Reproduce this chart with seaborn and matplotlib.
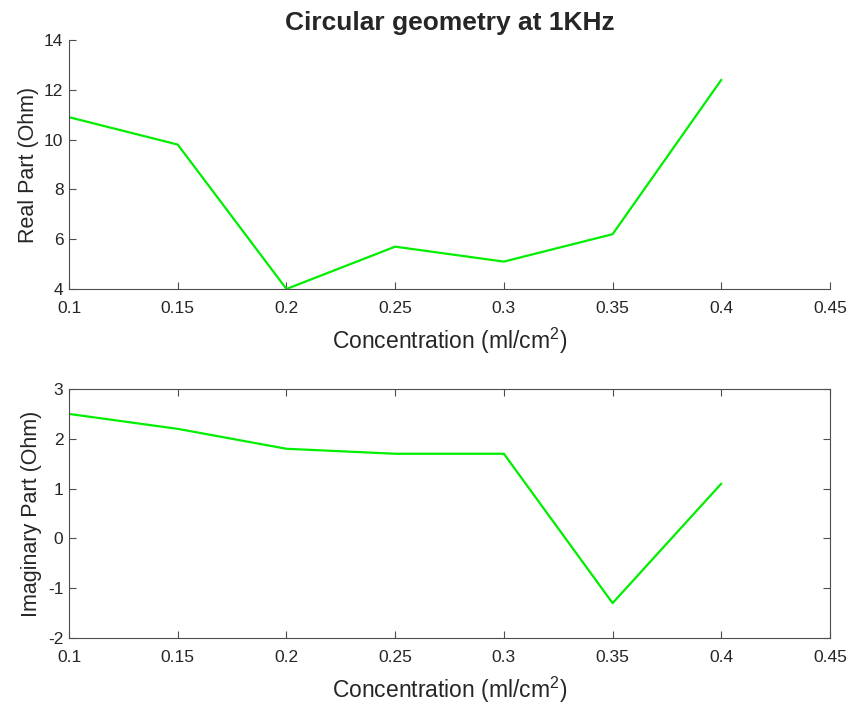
import matplotlib
matplotlib.use("Agg")
import matplotlib.pyplot as plt
import seaborn as sns
import pandas as pd

concentration = [0.1, 0.15, 0.2, 0.25, 0.3, 0.35, 0.4]
real_part = [10.9, 9.8, 4.0, 5.7, 5.1, 6.2, 12.4]
imag_part = [2.5, 2.2, 1.8, 1.7, 1.7, -1.3, 1.1]
x_ticks = [0.1, 0.15, 0.2, 0.25, 0.3, 0.35, 0.4, 0.45]
x_ticklabels = ["0.1", "0.15", "0.2", "0.25", "0.3", "0.35", "0.4", "0.45"]
real_ticks = [4, 6, 8, 10, 12, 14]
imag_ticks = [-2, -1, 0, 1, 2, 3]

sns.set_style("white")
plt.rcParams["font.family"] = ["Liberation Sans", "DejaVu Sans"]
plt.rcParams["mathtext.fontset"] = "custom"
plt.rcParams["mathtext.rm"] = "Liberation Sans"
plt.rcParams["mathtext.it"] = "Liberation Sans"

df = pd.DataFrame({"c": concentration, "re": real_part, "im": imag_part})

fig = plt.figure(figsize=(8.5, 7.04), dpi=100)
ax1 = fig.add_axes([0.0812, 0.5895, 0.8953, 0.3537])
ax2 = fig.add_axes([0.0812, 0.0938, 0.8953, 0.3536])

axis_col = "#4d4d4d"
green = "#00ee00"

sns.lineplot(data=df, x="c", y="re", ax=ax1, color=green, linewidth=1.6)
sns.lineplot(data=df, x="c", y="im", ax=ax2, color=green, linewidth=1.6)

xlabel = "Concentration (ml/cm$^2$)"
for ax, yt, ylab, box in [(ax1, real_ticks, "Real Part (Ohm)", False),
                          (ax2, imag_ticks, "Imaginary Part (Ohm)", True)]:
    ax.set_xlim(0.1, 0.45)
    ax.set_ylim(yt[0], yt[-1])
    ax.set_xticks(x_ticks)
    ax.set_xticklabels(x_ticklabels)
    ax.set_yticks(yt)
    ax.set_yticklabels([str(v) for v in yt])
    ax.set_xlabel(xlabel, fontsize=16.5, color="#262626", labelpad=7)
    ax.set_ylabel(ylab, fontsize=15.5, color="#262626", labelpad=4)
    ax.tick_params(axis="both", direction="in", length=5, width=0.8,
                   colors=axis_col, labelcolor="#262626", labelsize=12.5,
                   top=box, right=box, bottom=True, left=True, pad=4)
    ax.tick_params(axis="x", pad=9)
    for side in ["left", "bottom"]:
        ax.spines[side].set_visible(True)
        ax.spines[side].set_color(axis_col)
        ax.spines[side].set_linewidth(0.8)
    for side in ["top", "right"]:
        ax.spines[side].set_visible(box)
        ax.spines[side].set_color(axis_col)
        ax.spines[side].set_linewidth(0.8)

ax1.set_title("Circular geometry at 1KHz", fontsize=19, fontweight="bold", pad=7)

fig.savefig("out.png", dpi=100)
